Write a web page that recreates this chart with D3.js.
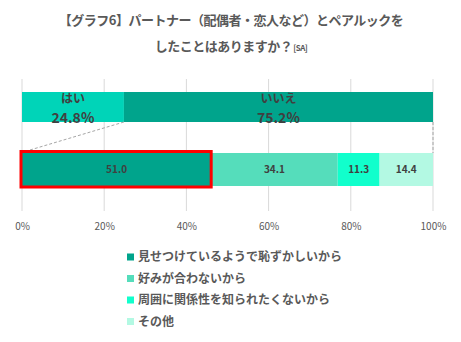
<!DOCTYPE html>
<html><head><meta charset="utf-8">
<script src="https://cdn.jsdelivr.net/npm/d3@7"></script>
<style>body{margin:0;background:#fff;}svg{display:block;font-family:"Noto Sans CJK JP","Noto Sans",sans-serif;}</style>
</head><body>
<script>
const topCats = ["はい", "いいえ"];
const topValues = [24.8, 75.2];
const topColors = ["#00D4B8", "#00A48C"];
const reasons = ["見せつけているようで恥ずかしいから", "好みが合わないから", "周囲に関係性を知られたくないから", "その他"];
const reasonValues = [51.0, 34.1, 11.3, 14.4];
const reasonColors = ["#00A48C", "#55DDBB", "#11FFCC", "#B3F9E3"];
const tickValues = [0, 20, 40, 60, 80, 100];

const W = 461, H = 342;
const svg = d3.select("body").append("svg").attr("width", W).attr("height", H);
const x = d3.scaleLinear().domain([0, 100]).range([22, 433]);

// title
const title = svg.append("g").attr("fill", "#595959").attr("font-weight", "bold").attr("text-anchor", "middle");
title.append("text").attr("x", 231).attr("y", 25).attr("font-size", 13).attr("letter-spacing", -0.5)
  .text("【グラフ6】パートナー（配偶者・恋人など）とペアルックを");
const t2 = title.append("text").attr("x", 231).attr("y", 51).attr("font-size", 13).attr("letter-spacing", -0.5);
t2.append("tspan").text("したことはありますか？");
t2.append("tspan").attr("font-size", 8).attr("dx", 1).text("[SA]");

// grid
svg.append("g").selectAll("line").data(tickValues).join("line")
  .attr("x1", d => x(d)).attr("x2", d => x(d)).attr("y1", 79).attr("y2", 211)
  .attr("stroke", "#D9D9D9").attr("stroke-width", 1);

// axis labels
const axis = svg.append("g").attr("transform", "translate(0,226)")
  .call(d3.axisBottom(x).tickValues(tickValues).tickFormat(d => d + "%").tickSize(0).tickPadding(0));
axis.select(".domain").remove();
axis.selectAll("text").attr("fill", "#595959").attr("font-size", 10).attr("font-family", "'Noto Sans CJK JP','Noto Sans',sans-serif").attr("dy", "0.35em");

// top bar
const yTop = 92, hTop = 30;
const topStack = [];
let acc = 0;
topValues.forEach((v, i) => { topStack.push({c: topCats[i], v, x0: acc, x1: acc + v, col: topColors[i]}); acc += v; });
const tg = svg.append("g");
tg.selectAll("rect").data(topStack).join("rect")
  .attr("x", d => x(d.x0)).attr("width", d => x(d.x1) - x(d.x0))
  .attr("y", yTop).attr("height", hTop).attr("fill", d => d.col);
tg.selectAll("text.c").data(topStack).join("text").attr("class", "c")
  .attr("x", d => (x(d.x0) + x(d.x1)) / 2).attr("y", yTop + 11).attr("text-anchor", "middle")
  .attr("font-size", 12).attr("font-weight", "bold").attr("fill", "#404040").text(d => d.c);
tg.selectAll("text.v").data(topStack).join("text").attr("class", "v")
  .attr("x", d => (x(d.x0) + x(d.x1)) / 2).attr("y", yTop + 31).attr("text-anchor", "middle")
  .attr("font-size", 14).attr("font-weight", "bold").attr("fill", "#404040").text(d => d.v.toFixed(1) + "%");

// bottom bar (normalized)
const total = d3.sum(reasonValues);
const xb = d3.scaleLinear().domain([0, total]).range([22, 433]);
const yB = 153, hB = 33;
const bStack = [];
acc = 0;
reasonValues.forEach((v, i) => { bStack.push({v, x0: acc, x1: acc + v, col: reasonColors[i]}); acc += v; });
const bg = svg.append("g");
bg.selectAll("rect").data(bStack).join("rect")
  .attr("x", d => xb(d.x0)).attr("width", d => xb(d.x1) - xb(d.x0))
  .attr("y", yB).attr("height", hB).attr("fill", d => d.col);
bg.selectAll("text").data(bStack).join("text")
  .attr("x", d => (xb(d.x0) + xb(d.x1)) / 2).attr("y", yB + hB / 2).attr("dy", "0.35em")
  .attr("text-anchor", "middle").attr("font-size", 10).attr("font-weight", "bold").attr("fill", "#404040")
  .text(d => d.v.toFixed(1));

// connector dashed lines
svg.append("line").attr("x1", x(topStack[0].x1)).attr("y1", yTop + hTop).attr("x2", xb(0) + 8).attr("y2", yB - 3)
  .attr("stroke", "#A6A6A6").attr("stroke-dasharray", "3,2");
svg.append("line").attr("x1", x(100)).attr("y1", yTop + hTop).attr("x2", x(100)).attr("y2", yB)
  .attr("stroke", "#A6A6A6").attr("stroke-dasharray", "3,2");

// highlight box
svg.append("rect").attr("x", xb(bStack[0].x0) - 1).attr("y", yB - 1.5)
  .attr("width", xb(bStack[0].x1) - xb(bStack[0].x0) + 1).attr("height", hB + 2.5)
  .attr("fill", "none").attr("stroke", "#FF0000").attr("stroke-width", 3);

// legend
const lg = svg.append("g").selectAll("g").data(reasons).join("g")
  .attr("transform", (d, i) => `translate(127,${257 + i * 21.5})`);
lg.append("rect").attr("x", 0).attr("y", -3.5).attr("width", 7).attr("height", 7).attr("fill", (d, i) => reasonColors[i]);
lg.append("text").attr("x", 11).attr("dy", "0.35em").attr("font-size", 12).attr("font-weight", "bold")
  .attr("fill", "#595959").text(d => d);
</script>
</body></html>
